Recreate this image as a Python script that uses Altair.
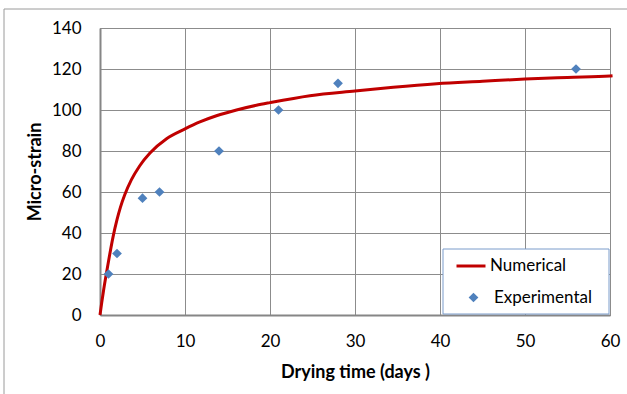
import altair as alt
import pandas as pd

# Numerical curve
num_t = [0, 0.2, 0.4, 0.74, 1.1, 1.53, 2.0, 2.4, 2.9, 3.7, 4.66, 5.88, 7.83, 10, 11.75, 13.7,
         16.06, 18.4, 20, 24.7, 30, 34.5, 39.6, 45, 50, 55, 60, 60.3]
num_v = [0, 6, 11.5, 20, 28.5, 38, 46.5, 52.5, 58.5, 66, 72.7, 79, 86, 90.8, 94.2, 97.2,
         100, 102.3, 103.6, 107, 109.3, 111.1, 112.8, 114, 115.1, 115.9, 116.6, 116.7]

# Experimental points
exp_t = [1, 2, 5, 7, 14, 21, 28, 56]
exp_v = [20, 30, 57, 60, 80, 100, 113, 120]

x_ticks = [0, 10, 20, 30, 40, 50, 60]
y_ticks = [0, 20, 40, 60, 80, 100, 120, 140]

RED = "#C00000"
BLUE = "#4F81BD"
FONT = "Lato"

num_df = pd.DataFrame({"t": num_t, "v": num_v, "s": "Numerical"})
exp_df = pd.DataFrame({"t": exp_t, "v": exp_v, "s": "Experimental"})

xenc = alt.X("t:Q", scale=alt.Scale(domain=[0, 60], nice=False),
             axis=alt.Axis(values=x_ticks, title="Drying time (days )", grid=True))
yenc = alt.Y("v:Q", scale=alt.Scale(domain=[0, 140], nice=False),
             axis=alt.Axis(values=y_ticks, title="Micro-strain", grid=True))

frame = alt.Chart(pd.DataFrame({"a": [0]})).mark_rect(
    fill="white", fillOpacity=0, stroke="#9a9a9a", strokeWidth=1
).encode(x=alt.value(-96), x2=alt.value(800), y=alt.value(-19), y2=alt.value(600))

legbox = alt.Chart(pd.DataFrame({"a": [0]})).mark_rect(
    fill="white", stroke="#7A9CCB", strokeWidth=1
).encode(x=alt.value(343), x2=alt.value(509), y=alt.value(221), y2=alt.value(286))

line = alt.Chart(num_df).mark_line(strokeWidth=3, clip=False, color=RED, interpolate="monotone").encode(
    x=xenc, y=yenc,
    color=alt.Color("s:N", scale=alt.Scale(domain=["Numerical"], range=[RED]),
                    legend=alt.Legend(title=None, orient="none", legendX=355, legendY=222,
                                      symbolType="stroke", symbolSize=841, symbolStrokeWidth=3,
                                      padding=0, labelOffset=3, labelFont=FONT,
                                      labelFontSize=17, labelColor="black")),
)
pts = alt.Chart(exp_df).mark_point(shape="diamond", filled=True, size=95, opacity=1, color=BLUE).encode(
    x=xenc, y=yenc,
    shape=alt.Shape("s:N", scale=alt.Scale(domain=["Experimental"], range=["diamond"]),
                    legend=alt.Legend(title=None, orient="none", legendX=365, legendY=261,
                                      symbolSize=95, symbolFillColor=BLUE, symbolStrokeWidth=0,
                                      symbolOpacity=1, padding=0, labelOffset=12,
                                      labelFont=FONT, labelFontSize=17, labelColor="black")),
)

chart = alt.layer(frame, line, pts, legbox).properties(
    width=510, height=287,
    autosize=alt.AutoSizeParams(type="none"),
    padding={"left": 100, "top": 28, "right": 17, "bottom": 79},
    background="white",
).configure_view(
    stroke="#888888", strokeWidth=1
).configure_axis(
    gridColor="#8c8c8c", gridWidth=1, domainColor="#868686", domainWidth=2,
    ticks=False, labelFont=FONT, labelFontSize=17, labelColor="black",
    titleFont=FONT, titleFontSize=18, titleFontWeight="bold", titleColor="black",
).configure_axisX(
    labelPadding=18, titlePadding=14, labelFlush=False
).configure_axisY(
    labelPadding=19, titlePadding=7, labelFlush=False
)

chart.save("out.html", embed_options={"renderer": "svg", "actions": False})
